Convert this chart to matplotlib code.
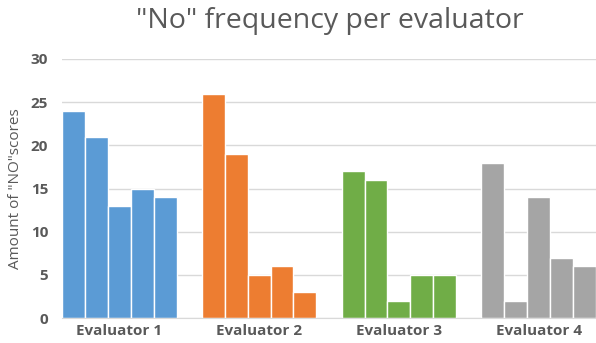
import matplotlib
matplotlib.use("Agg")
import matplotlib.pyplot as plt
import numpy as np

groups = ["Evaluator 1", "Evaluator 2", "Evaluator 3", "Evaluator 4"]
values = [
    [24, 21, 13, 15, 14],
    [26, 19, 5, 6, 3],
    [17, 16, 2, 5, 5],
    [18, 2, 14, 7, 6],
]
colors = ["#5B9BD5", "#ED7D31", "#70AD47", "#A5A5A5"]
yticks = [0, 5, 10, 15, 20, 25, 30]

plt.rcParams['font.family'] = ['Open Sans', 'DejaVu Sans']

fig = plt.figure(figsize=(5.96, 3.43), dpi=100)
ax = fig.add_axes([62/596, 1 - 318/343, (596 - 62)/596, (318 - 59)/343])

group_w = 0.82
n = 5
bw = group_w / n
for gi, (vals, col) in enumerate(zip(values, colors)):
    xs = gi - group_w/2 + bw/2 + np.arange(n) * bw
    ax.bar(xs, vals, width=bw, color=col, edgecolor="white", linewidth=1.0, zorder=3)

ax.set_xlim(-0.41, 3.41)
ax.set_ylim(0, 30)
ax.set_yticks(yticks)
ax.set_xticks(range(len(groups)))
ax.set_xticklabels(groups, fontsize=11, fontweight="bold", color="#595959")
for lab in ax.get_yticklabels():
    lab.set_fontsize(11)
    lab.set_fontweight("bold")
    lab.set_color("#595959")
ax.tick_params(axis="both", length=0)
ax.tick_params(axis="y", pad=10)
ax.tick_params(axis="x", pad=4)
ax.grid(axis="y", color="#D9D9D9", linewidth=1, zorder=0)
for s in ["left", "right", "top"]:
    ax.spines[s].set_visible(False)
ax.spines["bottom"].set_color("#D9D9D9")
ax.spines["bottom"].set_zorder(4)

ax.set_ylabel('Amount of "NO"scores', fontsize=11, color="#595959")
ax.yaxis.set_label_coords(-39/534, 0.5)
fig.text(330/596, 1 - 21/343, '"No" frequency per evaluator', ha="center", va="center",
         fontsize=20.5, color="#595959")

fig.savefig("out.png", dpi=100)
